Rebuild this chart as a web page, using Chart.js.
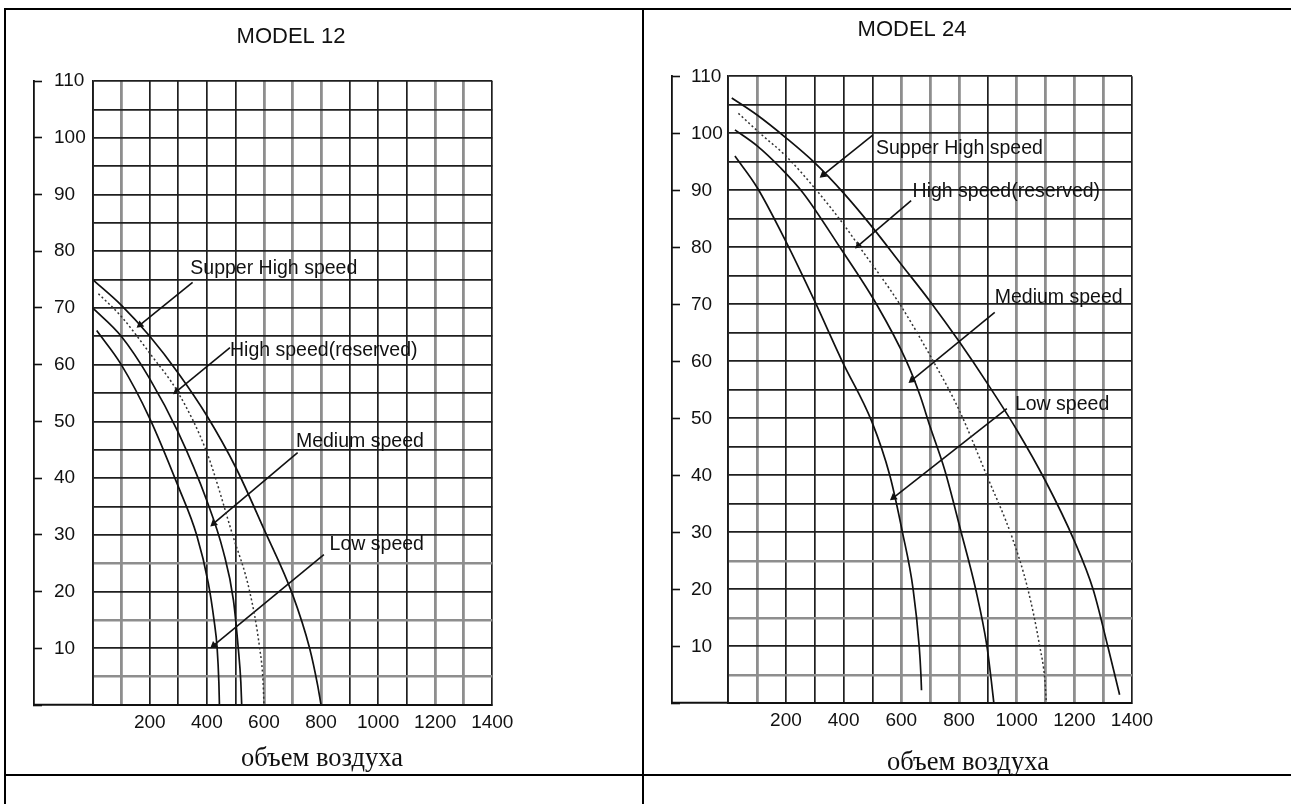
<!DOCTYPE html>
<html>
<head>
<meta charset="utf-8">
<script src="https://cdn.jsdelivr.net/npm/chart.js@4.4.1/dist/chart.umd.min.js"></script>
<style>
  body { margin: 0; background: #fff; width: 1291px; height: 804px; overflow: hidden; position: relative; }
  .rule { position: absolute; background: #000; }
  canvas { position: absolute; top: 0; }
  .caption { position: absolute; transform: translate(-50%, -50%); white-space: nowrap;
    font-family: "Liberation Serif", "Times New Roman", serif; font-size: 26.5px; color: #111; }
</style>
</head>
<body>
<div class="rule" style="left:4px;top:8px;width:1287px;height:2px"></div>
<div class="rule" style="left:4px;top:8px;width:2px;height:796px"></div>
<div class="rule" style="left:642px;top:8px;width:2px;height:796px"></div>
<div class="rule" style="left:4px;top:774px;width:1287px;height:2px"></div>

<canvas id="model12" width="560" height="775" style="left:0"></canvas>
<canvas id="model24" width="530" height="775" style="left:650px"></canvas>

<div class="caption" style="left:322px;top:757px">объем воздуха</div>
<div class="caption" style="left:968px;top:761px">объем воздуха</div>

<script>
// axis values
const xTicks = [0, 100, 200, 300, 400, 500, 600, 700, 800, 900, 1000, 1100, 1200, 1300, 1400];
const xLabelValues = [200, 400, 600, 800, 1000, 1200, 1400];
const yGridValues = [0, 5, 10, 15, 20, 25, 30, 35, 40, 45, 50, 55, 60, 65, 70, 75, 80, 85, 90, 95, 100, 105, 110];
const yLabelValues = [0, 10, 20, 30, 40, 50, 60, 70, 80, 90, 100, 110];
const speedNames = ["Supper High speed", "High speed(reserved)", "Medium speed", "Low speed"];

// MODEL 12 curves [air volume, pressure]
const m12SuperHigh = [[0, 75], [100, 70.5], [200, 65], [300, 58.5], [400, 51], [500, 42], [600, 31], [700, 19.5], [760, 10], [788, 3.5], [800, 0]];
const m12High = [[20, 72.5], [100, 68.5], [200, 62], [300, 55], [400, 44.5], [490, 30], [550, 20], [585, 10], [597, 4], [600, 0]];
const m12Medium = [[0, 70], [100, 65], [200, 57.5], [300, 48], [400, 36], [458, 27], [493, 18.5], [510, 10], [519, 4], [522, 0]];
const m12Low = [[14, 66], [100, 60], [200, 50.5], [300, 38.5], [364, 30], [405, 21.5], [425, 15], [436, 10], [442, 4], [444, 0]];
const m12LabelAt = [[342, 77], [481, 62.5], [712, 46.4], [830, 28.2]];
const m12ArrowFrom = [[350, 74.5], [481, 63], [718, 44.5], [810, 26.5]];
const m12ArrowTo = [[166, 67], [294, 55.3], [424, 32], [424, 10.5]];

// MODEL 24 curves
const m24SuperHigh = [[12, 106.2], [100, 103.2], [200, 99.2], [300, 94.8], [400, 89.5], [500, 83.5], [600, 77], [700, 70.5], [800, 63.5], [900, 56], [1000, 48], [1100, 39], [1200, 28.5], [1265, 20], [1316, 10], [1345, 4], [1357, 1.5]];
const m24High = [[35, 103.5], [110, 100], [200, 96], [306, 90], [400, 84], [456, 80], [595, 70], [711, 60], [800, 51.5], [896, 40], [985, 29], [1039, 20], [1080, 10], [1098, 4], [1103, 0]];
const m24Medium = [[23, 100.6], [100, 97.8], [180, 94], [260, 89.5], [387, 80], [514, 70], [618, 60], [665, 54], [700, 48.5], [750, 41], [805, 30.5], [858, 20], [897, 10], [912, 4], [921, 0]];
const m24Low = [[23, 96], [100, 90.5], [200, 81], [300, 70.5], [395, 60], [497, 49.5], [560, 40], [604, 30], [641, 20], [662, 10], [668, 5], [670, 2.3]];
const m24LabelAt = [[512, 97.3], [639, 89.8], [924, 71.2], [994, 52.4]];
const m24ArrowFrom = [[501, 99.7], [634, 88.2], [924, 68.6], [966, 51.7]];
const m24ArrowTo = [[329, 92.7], [451, 80.3], [637, 56.7], [573, 36.1]];

const sansFamily = '"Liberation Sans", Arial, sans-serif';
const darkLine = "#1f1f1f";
const grayLine = "#8e8e8e";

function toPoints(pairs) {
  return pairs.map(p => ({ x: p[0], y: p[1] }));
}

function curveSet(pairs, dotted) {
  return {
    data: toPoints(pairs),
    showLine: true,
    pointRadius: 0,
    borderColor: dotted ? "#333" : "#111",
    borderWidth: dotted ? 1.5 : 1.7,
    borderDash: dotted ? [2, 2.5] : [],
    cubicInterpolationMode: "monotone",
    xAxisID: "x",
    yAxisID: "y"
  };
}

// arrow shaft with a triangle head turned toward the curve
function arrowSet(from, to) {
  return {
    data: toPoints([from, to]),
    showLine: true,
    borderColor: "#111",
    borderWidth: 1.6,
    pointRadius: [0, 4.5],
    pointStyle: "triangle",
    pointBackgroundColor: "#111",
    pointBorderWidth: 0,
    pointRotation: ctx => {
      const xs = ctx.chart.scales.x, ys = ctx.chart.scales.y;
      const d = ctx.dataset.data;
      const dx = xs.getPixelForValue(d[1].x) - xs.getPixelForValue(d[0].x);
      const dy = ys.getPixelForValue(d[1].y) - ys.getPixelForValue(d[0].y);
      return Math.atan2(dx, -dy) * 180 / Math.PI;
    },
    xAxisID: "x",
    yAxisID: "y"
  };
}

function labelPlugin(positions) {
  return {
    id: "speedLabels",
    afterDatasetsDraw(chart) {
      const { ctx, scales } = chart;
      ctx.save();
      ctx.font = "19.5px " + sansFamily;
      ctx.fillStyle = "#111";
      ctx.textBaseline = "middle";
      speedNames.forEach((name, i) => {
        ctx.fillText(name, scales.x.getPixelForValue(positions[i][0]), scales.y.getPixelForValue(positions[i][1]));
      });
      ctx.restore();
    }
  };
}

function buildChart(id, s) {
  const grayX = s.grayX, grayY = [5, 15, 25];
  const tickFont = { family: sansFamily, size: 19 };
  new Chart(document.getElementById(id), {
    type: "scatter",
    data: {
      datasets: [
        curveSet(s.curves[0], false),
        curveSet(s.curves[1], true),
        curveSet(s.curves[2], false),
        curveSet(s.curves[3], false),
        ...s.from.map((f, i) => arrowSet(f, s.to[i]))
      ]
    },
    options: {
      responsive: false,
      animation: false,
      events: [],
      layout: { padding: s.padding },
      plugins: {
        legend: { display: false },
        tooltip: { enabled: false },
        title: {
          display: true,
          text: s.title,
          color: "#111",
          font: { family: sansFamily, size: 22, weight: "normal" },
          padding: s.titlePad
        }
      },
      scales: {
        x: {
          type: "linear",
          position: "bottom",
          min: 0,
          max: 1400,
          afterBuildTicks: sc => { sc.ticks = xTicks.map(v => ({ value: v })); },
          afterFit: sc => { sc.height = 40; },
          ticks: {
            autoSkip: false, maxRotation: 0, minRotation: 0, padding: 6,
            color: "#111", font: tickFont,
            callback: v => xLabelValues.includes(v) ? String(v) : ""
          },
          grid: {
            drawTicks: false,
            color: c => grayX.includes(c.tick.value) ? grayLine : darkLine,
            lineWidth: c => grayX.includes(c.tick.value) ? 2.8 : 1.7
          },
          border: { display: true, color: "#111", width: 2 }
        },
        y: {
          type: "linear",
          position: "left",
          weight: 0,
          min: 0,
          max: 110,
          afterBuildTicks: sc => { sc.ticks = yGridValues.map(v => ({ value: v })); },
          afterFit: sc => { sc.width = s.labelBand; },
          ticks: { display: false },
          grid: {
            drawTicks: true,
            tickLength: s.labelBand,
            tickWidth: 2,
            tickColor: c => c.tick.value === 0 ? "#111" : "rgba(0,0,0,0)",
            color: c => grayY.includes(c.tick.value) ? grayLine : darkLine,
            lineWidth: c => grayY.includes(c.tick.value) ? 2.5 : 1.7
          },
          border: { display: true, color: "#1a1a1a", width: 1.8 }
        },
        yLine: {
          type: "linear",
          position: "left",
          weight: 10,
          min: 0,
          max: 110,
          afterBuildTicks: sc => { sc.ticks = yLabelValues.map(v => ({ value: v })); },
          afterFit: sc => { sc.width = 0; },
          ticks: {
            mirror: true, padding: s.labelGap, autoSkip: false,
            color: "#111", font: tickFont,
            callback: v => v === 0 ? "" : String(v)
          },
          grid: {
            drawOnChartArea: false, drawTicks: true, tickLength: -8,
            tickWidth: 1.6, tickColor: "#111", color: "#111"
          },
          border: { display: true, color: "#111", width: 1.8 }
        },
        pad: {
          type: "linear",
          position: "right",
          afterFit: sc => { sc.width = s.rightBand; },
          ticks: { display: false },
          grid: { display: false },
          border: { display: false }
        }
      }
    },
    plugins: [labelPlugin(s.labels)]
  });
}

buildChart("model12", {
  title: "MODEL 12",
  curves: [m12SuperHigh, m12High, m12Medium, m12Low],
  labels: m12LabelAt,
  from: m12ArrowFrom,
  to: m12ArrowTo,
  grayX: [100, 600, 700, 800, 1200, 1300],
  padding: { left: 34, right: 12, top: 0, bottom: 30 },
  titlePad: { top: 24, bottom: 30.6 },
  labelBand: 58.7,
  labelGap: 20,
  rightBand: 55.7
});

buildChart("model24", {
  title: "MODEL 24",
  curves: [m24SuperHigh, m24High, m24Medium, m24Low],
  labels: m24LabelAt,
  from: m24ArrowFrom,
  to: m24ArrowTo,
  grayX: [100, 600, 700, 800, 1000, 1100, 1200, 1300],
  padding: { left: 22, right: 28, top: 0, bottom: 31.7 },
  titlePad: { top: 16.8, bottom: 33.1 },
  labelBand: 56.3,
  labelGap: 19,
  rightBand: 20
});
</script>
</body>
</html>
